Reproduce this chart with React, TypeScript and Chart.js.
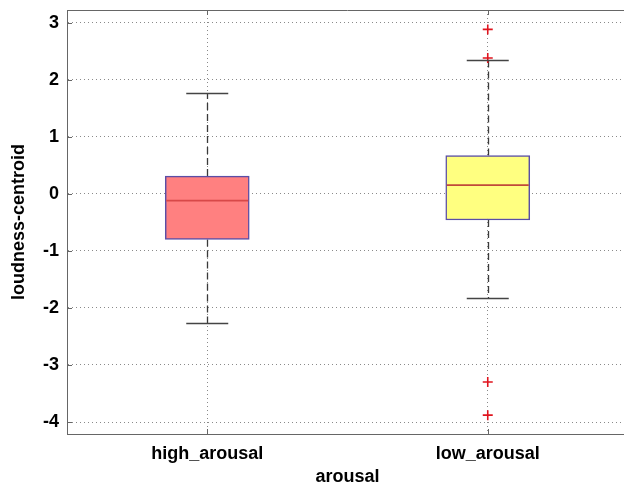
import React, { useEffect, useRef } from 'react';
import { Chart, registerables } from 'chart.js';

Chart.register(...registerables);

// ---- data ----
const categories = ['high_arousal', 'low_arousal'];
const q1 = [-0.8, -0.46];
const q3 = [0.31, 0.67];
const medians = [-0.12, 0.15];
const whiskerLow = [-2.27, -1.83];
const whiskerHigh = [1.76, 2.34];
const outlierCategory = ['low_arousal', 'low_arousal', 'low_arousal', 'low_arousal'];
const outlierValues = [2.88, 2.38, -3.3, -3.88];
const yTickValues = [-4, -3, -2, -1, 0, 1, 2, 3];
const yMin = -4.21;
const yMax = 3.22;

// ---- styles ----
const boxFill = ['#ff8080', '#ffff80'];
const medianColor = ['#d84848', '#c04a3a'];
const boxEdge = '#5a4ea6';
const FONT = "'Liberation Sans', Arial, sans-serif";

const extrasPlugin = {
  id: 'boxExtras',
  beforeDatasetsDraw(chart: any) {
    const ctx = chart.ctx;
    const x = chart.scales.x;
    const y = chart.scales.y;
    ctx.save();
    ctx.strokeStyle = '#3a3a3a';
    ctx.lineWidth = 1.3;
    ctx.setLineDash([7, 4]);
    categories.forEach((_, i) => {
      const px = Math.round(x.getPixelForValue(i)) + 0.5;
      ctx.beginPath();
      ctx.moveTo(px, y.getPixelForValue(q3[i]));
      ctx.lineTo(px, y.getPixelForValue(whiskerHigh[i]));
      ctx.moveTo(px, y.getPixelForValue(q1[i]));
      ctx.lineTo(px, y.getPixelForValue(whiskerLow[i]));
      ctx.stroke();
    });
    ctx.restore();
  },
  afterDatasetsDraw(chart: any) {
    const ctx = chart.ctx;
    const y = chart.scales.y;
    const meta = chart.getDatasetMeta(0);
    ctx.save();
    categories.forEach((_, i) => {
      const bar = meta.data[i];
      const half = bar.width / 2;
      const cx = bar.x;
      ctx.strokeStyle = medianColor[i];
      ctx.lineWidth = 1.8;
      ctx.beginPath();
      const my = y.getPixelForValue(medians[i]);
      ctx.moveTo(cx - half + 1, my);
      ctx.lineTo(cx + half - 1, my);
      ctx.stroke();
      ctx.strokeStyle = '#444';
      ctx.lineWidth = 1.3;
      [whiskerLow[i], whiskerHigh[i]].forEach((v) => {
        const py = Math.round(y.getPixelForValue(v)) + 0.5;
        ctx.beginPath();
        ctx.moveTo(cx - half / 2, py);
        ctx.lineTo(cx + half / 2, py);
        ctx.stroke();
      });
    });
    ctx.restore();
  },
  afterDraw(chart: any) {
    const ctx = chart.ctx;
    const { left, right, top, bottom } = chart.chartArea;
    const x = chart.scales.x;
    const y = chart.scales.y;
    ctx.save();
    ctx.strokeStyle = '#666';
    ctx.lineWidth = 1;
    ctx.beginPath();
    ctx.moveTo(left, top + 0.5);
    ctx.lineTo(right, top + 0.5);
    ctx.stroke();
    ctx.beginPath();
    yTickValues.forEach((v) => {
      const py = Math.round(y.getPixelForValue(v)) + 0.5;
      ctx.moveTo(left, py);
      ctx.lineTo(left + 5, py);
    });
    categories.forEach((_, i) => {
      const px = Math.round(x.getPixelForValue(i)) + 0.5;
      ctx.moveTo(px, bottom);
      ctx.lineTo(px, bottom - 5);
      ctx.moveTo(px, top);
      ctx.lineTo(px, top + 5);
    });
    ctx.stroke();
    ctx.restore();
  },
};

export default function App() {
  const ref = useRef<HTMLCanvasElement | null>(null);

  useEffect(() => {
    if (!ref.current) return;
    const gridCommon = {
      color: '#8a8a8a',
      lineWidth: 1,
      drawTicks: false,
    };
    const chart = new Chart(ref.current, {
      type: 'bar',
      data: {
        labels: categories,
        datasets: [
          {
            type: 'bar',
            data: categories.map((_, i) => [q1[i], q3[i]]) as any,
            backgroundColor: boxFill,
            borderColor: boxEdge,
            borderWidth: 1.5,
            borderSkipped: false,
            barThickness: 84,
          } as any,
          {
            type: 'line',
            data: outlierCategory.map((c, i) => ({ x: c, y: outlierValues[i] })) as any,
            showLine: false,
            pointStyle: 'cross',
            pointRadius: 5,
            pointBorderWidth: 1.6,
            pointBorderColor: '#e0141e',
            borderColor: '#e0141e',
            pointBackgroundColor: '#e0141e',
          } as any,
        ],
      },
      options: {
        animation: false,
        responsive: false,
        maintainAspectRatio: false,
        layout: { autoPadding: false, padding: { top: 10, left: 0, right: 0, bottom: 0 } } as any,
        plugins: {
          legend: { display: false },
          tooltip: { enabled: false },
        },
        scales: {
          x: {
            type: 'category',
            offset: true,
            z: 1,
            grid: { ...gridCommon, offset: false } as any,
            border: { display: true, color: '#666', width: 1, dash: [1, 3] } as any,
            ticks: {
              color: '#000',
              padding: 9,
              font: { family: FONT, size: 18, weight: 'bold' },
            },
            title: {
              display: true,
              text: 'arousal',
              color: '#000',
              font: { family: FONT, size: 18, weight: 'bold' },
              padding: { top: 0, bottom: 0 },
            },
            afterFit(scale: any) {
              scale.height = 54;
              scale.paddingLeft = 0;
              scale.paddingRight = 0;
            },
          },
          y: {
            type: 'linear',
            min: yMin,
            max: yMax,
            z: 1,
            afterBuildTicks(scale: any) {
              scale.ticks = yTickValues.map((v) => ({ value: v }));
            },
            grid: { ...gridCommon } as any,
            border: { display: true, color: '#666', width: 1, dash: [1, 3] } as any,
            ticks: {
              color: '#000',
              padding: 8,
              font: { family: FONT, size: 18, weight: 'bold' },
              callback: (v: any) => String(v),
            },
            title: {
              display: true,
              text: 'loudness-centroid',
              color: '#000',
              font: { family: FONT, size: 18, weight: 'bold' },
              padding: { top: 8, bottom: 0 },
            },
            afterFit(scale: any) {
              scale.width = 67;
              scale.paddingTop = 0;
              scale.paddingBottom = 0;
            },
          },
        },
      },
      plugins: [extrasPlugin],
    });
    return () => chart.destroy();
  }, []);

  return (
    <div style={{ position: 'fixed', left: 0, top: 0, width: 624, height: 488, overflow: 'hidden', background: '#fff' }}>
      <canvas ref={ref} width={628} height={488} style={{ width: 628, height: 488, display: 'block' }} />
    </div>
  );
}
